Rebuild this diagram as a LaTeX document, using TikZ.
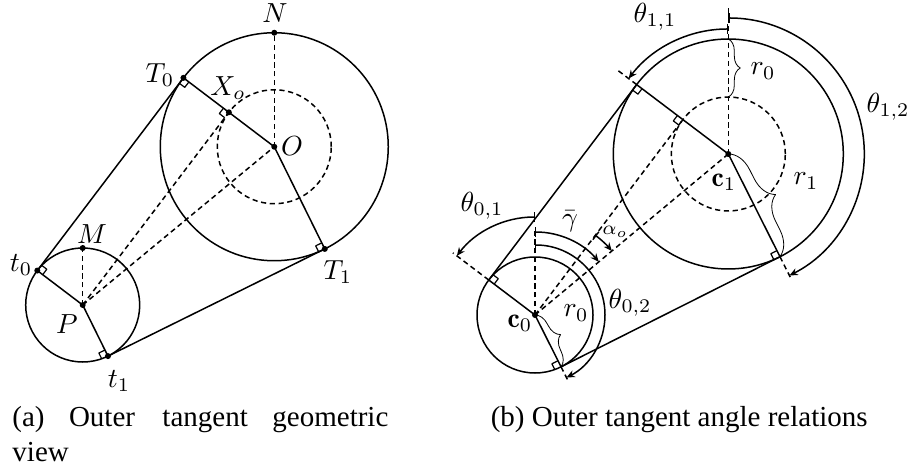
\documentclass[tikz,border=0pt]{standalone}
\usepackage{fontspec}
\newfontfamily\capfont{Liberation Serif}
\usetikzlibrary{calc,arrows.meta,decorations.pathreplacing}
\newcommand\rmark[3]{%
  \coordinate (ra) at ($(#1)!3.4pt!(#2)$);
  \coordinate (rb) at ($(#1)!3.4pt!(#3)$);
  \draw[line width=0.6pt] (ra) -- ($(ra)+(rb)-(#1)$) -- (rb);}
\begin{document}
\begin{tikzpicture}[x=0.5pt,y=0.5pt,line width=0.75pt,line join=round,
  dsh/.style={dash pattern=on 2.6pt off 1.8pt},
  lab/.style={inner sep=0pt,scale=1.38},
  dotm/.style={circle,fill,inner sep=0pt,minimum size=3pt},
  ang/.style={arrows={Bar[width=5pt,line width=0.7pt]-Stealth[length=4.2pt,width=3.6pt]}},
  brc/.style={decorate,decoration={brace,amplitude=#1},line width=0.4pt},
  captxt/.style={inner sep=0pt,anchor=base west,font=\capfont\fontsize{14.5}{17}\selectfont}]
\useasboundingbox (0,0) rectangle (910,-471);

% ---------------- left: geometric view ----------------
\def\rA{57}\def\RA{114}\def\dA{57}
\pgfmathsetmacro\bA{39.56}
\pgfmathsetmacro\aA{asin((\RA-\rA)/248.5)}
\pgfmathsetmacro\pA{\bA+90+\aA}
\pgfmathsetmacro\qA{\bA-90-\aA}
\coordinate (P) at (82.7,-305);
\coordinate (O) at ($(P)+(\bA:248.5)$);
\coordinate (T0) at ($(O)+(\pA:\RA)$);
\coordinate (T1) at ($(O)+(\qA:\RA)$);
\coordinate (t0) at ($(P)+(\pA:\rA)$);
\coordinate (t1) at ($(P)+(\qA:\rA)$);
\coordinate (Xo) at ($(O)+(\pA:\dA)$);
\coordinate (N) at ($(O)+(0,\RA)$);
\coordinate (M) at ($(P)+(0,\rA)$);
\coordinate (t1b) at ($(t1)!-1!(T1)$);

\draw (O) circle[radius=\RA];
\draw[dsh] (O) circle[radius=\dA];
\draw (P) circle[radius=\rA];
\draw (t0) -- (T0);
\draw (t1) -- (T1);
\draw (O) -- (T0);
\draw (O) -- (T1);
\draw (P) -- (t0);
\draw (P) -- (t1);
\draw[dsh] (O) -- (N);
\draw[dsh] (P) -- (M);
\draw[dsh] (P) -- (O);
\draw[dsh] (P) -- (Xo);
\rmark{T0}{O}{t0}
\rmark{Xo}{T0}{P}
\rmark{t0}{P}{T0}
\rmark{t1}{P}{t1b}
\rmark{T1}{O}{t1}
\foreach \p in {N,T0,Xo,O,M,t0,P,t1,T1} \node[dotm] (d\p) at (\p) {};

\node[lab] (lN)  at (275,-13)  {$N$};
\node[lab] (lT0) at (160,-75)  {$T_0$};
\node[lab] (lXo) at (228,-88)  {$X_o$};
\node[lab] (lO)  at (292,-146) {$O$};
\node[lab] (lM)  at (92,-234)  {$M$};
\node[lab] (lt0) at (21,-265)  {$t_0$};
\node[lab] (lP)  at (67,-324)  {$P$};
\node[lab] (lt1) at (119,-381) {$t_1$};
\node[lab] (lT1) at (338,-272) {$T_1$};

% ---------------- right: angle relations ----------------
\def\rB{58}\def\RB{115}\def\dB{57}
\pgfmathsetmacro\bB{39.79}
\pgfmathsetmacro\aB{asin((\RB-\rB)/251.6)}
\pgfmathsetmacro\pB{\bB+90+\aB}
\pgfmathsetmacro\qB{\bB-90-\aB}
\pgfmathsetmacro\xB{\bB+\aB}
\coordinate (c0) at (535,-315);
\coordinate (c1) at ($(c0)+(\bB:251.6)$);
\coordinate (U0) at ($(c1)+(\pB:\RB)$);
\coordinate (U1) at ($(c1)+(\qB:\RB)$);
\coordinate (u0) at ($(c0)+(\pB:\rB)$);
\coordinate (u1) at ($(c0)+(\qB:\rB)$);
\coordinate (Yo) at ($(c1)+(\pB:\dB)$);
\coordinate (u1b) at ($(u1)!-1!(U1)$);
\coordinate (U0x) at ($(c1)+(\pB:140)$);
\coordinate (U1x) at ($(c1)+(\qB:141)$);
\coordinate (u0x) at ($(c0)+(\pB:103)$);
\coordinate (u1x) at ($(c0)+(\qB:73)$);
\coordinate (c1v) at ($(c1)+(0,148)$);
\coordinate (c0v) at ($(c0)+(0,85)$);
\coordinate (Btop) at ($(c1)+(0,\RB)$);
\coordinate (Itop) at ($(c1)+(0,\dB)$);

\draw (c1) circle[radius=\RB];
\draw[dsh] (c1) circle[radius=\dB];
\draw (c0) circle[radius=\rB];
\draw (u0) -- (U0);
\draw (u1) -- (U1);
\draw (c1) -- (U0);
\draw (c1) -- (U1);
\draw (c0) -- (u0);
\draw (c0) -- (u1);
\draw[dsh] (U0) -- (U0x);
\draw[dsh] (U1) -- (U1x);
\draw[dsh] (u0) -- (u0x);
\draw[dsh] (u1) -- (u1x);
\draw[dsh] (c1) -- (c1v);
\draw[dsh] (c0) -- (c0v);
\draw[dsh] (c0) -- (c1);
\draw[dsh] (c0) -- (Yo);
\rmark{U0}{c1}{u0}
\rmark{Yo}{U0}{c0}
\rmark{u0}{c0}{U0}
\rmark{u1}{c0}{u1b}
\rmark{U1}{c1}{u1}
\node[dotm] (dc1) at (c1) {};
\node[dotm] (dc0) at (c0) {};

% angle arcs
\draw[ang] ($(c1)+(90:125)$) arc[start angle=90,end angle=\pB,radius=125];
\draw[ang] ($(c1)+(90:136)$) arc[start angle=90,end angle=\qB,radius=136];
\draw[ang] ($(c0)+(90:98)$) arc[start angle=90,end angle=\pB,radius=98];
\draw[ang] ($(c0)+(90:83)$) arc[start angle=90,end angle=\bB,radius=83];
\draw[ang] ($(c0)+(90:70)$) arc[start angle=90,end angle=\qB,radius=70];
\draw[ang] ($(c0)+(\xB:100)$) arc[start angle=\xB,end angle=\bB,radius=100];

% braces
\draw[brc=6pt] (Btop) -- (Itop);
\draw[brc=12pt] (c1) -- (U1);
\draw[brc=7pt] (c0) -- (u1);

\node[lab] (l11) at (655,-17)  {$\theta_{1,1}$};
\node[lab] (l12) at (888,-107) {$\theta_{1,2}$};
\node[lab] (lr0a) at (763,-71) {$r_0$};
\node[lab] (lc1) at (724,-182) {$\mathbf{c}_1$};
\node[lab] (lr1) at (806,-181) {$r_1$};
\node[lab] (l01) at (482,-206) {$\theta_{0,1}$};
\node[lab] (lg)  at (570,-221) {$\bar{\gamma}$};
\node[lab] (lal) at (615,-232) {$\scriptstyle\alpha_o$};
\node[lab] (l02) at (630,-303) {$\theta_{0,2}$};
\node[lab] (lc0) at (520,-323) {$\mathbf{c}_0$};
\node[lab] (lr0b) at (576,-313) {$r_0$};

% captions
\node[captxt] (ca1) at (11.7,-426.7) {(a)};
\node[captxt] (ca2) at (68.3,-426.7) {Outer};
\node[captxt] (ca3) at (161.7,-426.7) {tangent};
\node[captxt] (ca4) at (271.7,-426.7) {geometric};
\node[captxt] (ca5) at (11.7,-461.7) {view};
\node[captxt] (cb)  at (490,-426.7) {(b) Outer tangent angle relations};
\end{tikzpicture}
\end{document}
